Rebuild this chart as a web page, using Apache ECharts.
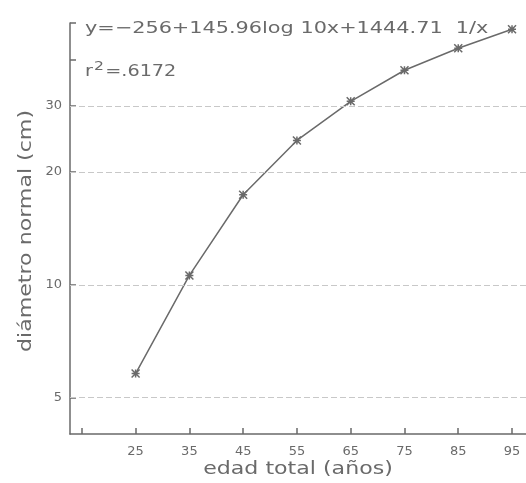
<!DOCTYPE html>
<html>
<head>
<meta charset="utf-8">
<script src="https://cdn.jsdelivr.net/npm/echarts@6/dist/echarts.min.js"></script>
<style>
  html, body { margin: 0; padding: 0; background: #fff; }
  #chart { width: 526px; height: 483px; }
</style>
</head>
<body>
<div id="chart"></div>
<script>
// edad total (años)
const edades = [25, 35, 45, 55, 65, 75, 85, 95];
// diámetro normal (cm)
const diametros = [5.8, 10.6, 17.4, 24.3, 30.9, 37.4, 42.8, 48.1];
const xTicks = [15, 25, 35, 45, 55, 65, 75, 85, 95];
const xLabels = [25, 35, 45, 55, 65, 75, 85, 95];
const yTicks = [5, 10, 20, 30, 40, 50];
const yLabels = [5, 10, 20, 30];
const yGrid = [5, 10, 20, 30];

const gris = '#6a6a6a';
const fuente = 'DejaVu Sans';

const chart = echarts.init(document.getElementById('chart'));

const option = {
  animation: false,
  backgroundColor: '#fff',
  textStyle: { fontFamily: fuente, color: gris },
  grid: { left: 70, right: 0, top: 23, bottom: 49, outerBoundsMode: 'none', containLabel: false },
  xAxis: {
    type: 'value',
    min: 12.8,
    max: 97.6,
    axisLine: { lineStyle: { color: gris, width: 1.5 } },
    axisTick: { inside: true, length: 6, customValues: xTicks, lineStyle: { color: gris, width: 1.5 } },
    axisLabel: { customValues: xLabels, fontSize: 13, color: gris, margin: 11 },
    splitLine: { show: false }
  },
  yAxis: {
    type: 'log',
    min: 4,
    max: 50,
    axisLine: { lineStyle: { color: gris, width: 1.5 } },
    axisTick: { inside: true, length: 6, customValues: yTicks, lineStyle: { color: gris, width: 1.5 } },
    axisLabel: { customValues: yLabels, fontSize: 13, color: gris, margin: 8 },
    splitLine: { show: false }
  },
  graphic: [
    {
      // ecuación del ajuste
      type: 'text',
      x: 85,
      y: 29,
      scaleX: 1.3,
      style: {
        text: 'y=−256+145.96log 10x+1444.71  1/x',
        font: '16px "DejaVu Sans"',
        fill: gris,
        verticalAlign: 'middle'
      }
    },
    {
      type: 'text',
      x: 85,
      y: 80,
      scaleX: 1.2,
      style: {
        text: '{a|r}{b|2}{a|=.6172}',
        fill: gris,
        verticalAlign: 'bottom',
        rich: {
          a: { fontSize: 16, fontFamily: fuente, fill: gris, verticalAlign: 'bottom' },
          b: { fontSize: 13, fontFamily: fuente, fill: gris, verticalAlign: 'top', padding: [0, 1, 7, 1] }
        }
      }
    },
    {
      // nombre del eje x
      type: 'text',
      x: 298,
      y: 470,
      scaleX: 1.3,
      style: {
        text: 'edad total (años)',
        font: '17px "DejaVu Sans"',
        fill: gris,
        align: 'center',
        verticalAlign: 'middle'
      }
    },
    {
      // nombre del eje y
      type: 'text',
      x: 27,
      y: 231,
      rotation: Math.PI / 2,
      scaleX: 1.3,
      style: {
        text: 'diámetro normal (cm)',
        font: '17px "DejaVu Sans"',
        fill: gris,
        align: 'center',
        verticalAlign: 'middle'
      }
    }
  ],
  series: [
    {
      type: 'line',
      data: edades.map((e, i) => [e, diametros[i]]),
      symbol: 'path://M0,0L10,10M10,0L0,10M5,0L5,10M0,5L10,5',
      symbolSize: 8,
      showSymbol: true,
      lineStyle: { color: gris, width: 1.5 },
      itemStyle: { color: 'transparent', borderColor: gris, borderWidth: 1.5 },
      markLine: {
        silent: true,
        symbol: 'none',
        label: { show: false },
        lineStyle: { color: '#c8c8c8', type: [6, 3], width: 1.2 },
        data: yGrid.map(v => ({ yAxis: v }))
      },
      z: 3
    }
  ]
};

chart.setOption(option);
window.addEventListener('resize', () => chart.resize());
</script>
</body>
</html>
